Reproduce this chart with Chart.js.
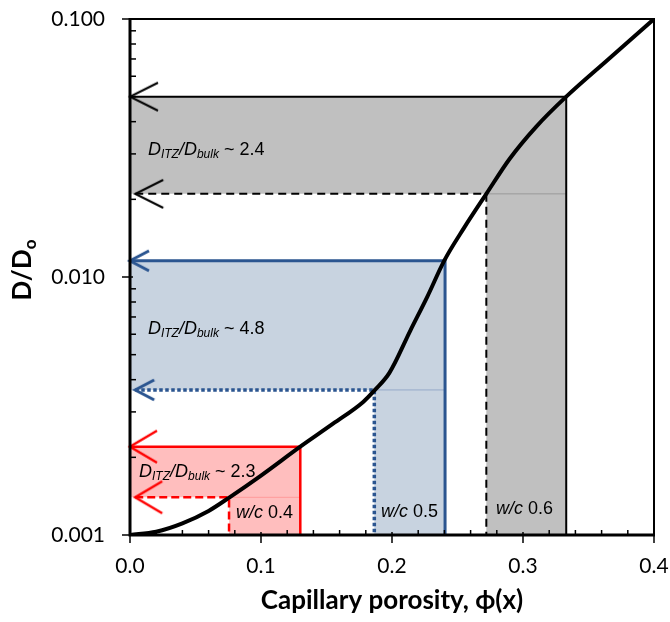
<!DOCTYPE html>
<html>
<head>
<meta charset="utf-8">
<script src="https://cdn.jsdelivr.net/npm/chart.js@4.4.1/dist/chart.umd.min.js"></script>
<style>
  html, body { margin: 0; padding: 0; background: #fff; }
</style>
</head>
<body>
<canvas id="chart" width="670" height="622"></canvas>
<script>
// D/Do against capillary porosity (black curve)
const porosity = [0, 0.02, 0.04, 0.06, 0.076, 0.1, 0.13, 0.155, 0.178, 0.187, 0.198, 0.214, 0.227, 0.24, 0.255, 0.272, 0.29, 0.31, 0.333, 0.365, 0.4];
const diffusivity = [0.001, 0.00103, 0.00111, 0.00124, 0.0014, 0.0017, 0.0022, 0.0027, 0.00328, 0.00365, 0.00425, 0.0062, 0.0084, 0.0116, 0.0155, 0.021, 0.0288, 0.0382, 0.05, 0.0697, 0.1];

// three w/c cases: bulk paste (dashed) and ITZ (solid)
const wcLabels = ['0.4', '0.5', '0.6'];
const ratioLabels = ['2.3', '4.8', '2.4'];
const bulkPorosity = [0.0756, 0.1865, 0.272];
const itzPorosity = [0.13, 0.2405, 0.333];
const bulkD = [0.0014, 0.00365, 0.021];
const itzD = [0.0022, 0.01156, 0.05];
const dashStart = 0.004;

// label anchors (x, y in data units)
const ratioAnchorX = [0.0069, 0.0137, 0.0137];
const ratioAnchorY = [0.00168, 0.00601, 0.0297];
const wcAnchorX = [0.0809, 0.1916, 0.2794];
const wcAnchorY = [0.001164, 0.001175, 0.001205];

// axes
const xMin = 0, xMax = 0.4;
const yMin = 0.001, yMax = 0.1;
const xMajorTicks = [0, 0.1, 0.2, 0.3, 0.4];
const xTickLabels = ['0.0', '0.1', '0.2', '0.3', '0.4'];
const xMinorStep = 0.02;
const yMajorTicks = [0.001, 0.01, 0.1];
const yTickLabels = ['0.001', '0.010', '0.100'];

const caseStyles = [
  { line: '#ff0000', fill: '#ffbebe', edge: '#ff9a9a', lw: 2.5, dlw: 2.5, dash: [8, 4], aw: 27, ah: 16, alw: 2.5 },
  { line: '#2b5590', fill: '#c8d3e0', edge: '#95abc9', lw: 3, dlw: 3.5, dash: [3.5, 2.5], aw: 19, ah: 10, alw: 3 },
  { line: '#000000', fill: '#c0c0c0', edge: '#9a9a9a', lw: 2, dlw: 2, dash: [8, 5], aw: 28, ah: 14, alw: 2 },
];

function makeArrow(color, w, h, lw) {
  const c = document.createElement('canvas');
  const pad = Math.ceil(lw) + 2;
  c.width = 2 * (w + pad);
  c.height = 2 * (h + pad);
  const g = c.getContext('2d');
  const cx = c.width / 2, cy = c.height / 2;
  g.strokeStyle = color;
  g.lineWidth = lw;
  g.beginPath();
  g.moveTo(cx + w, cy - h);
  g.lineTo(cx, cy);
  g.lineTo(cx + w, cy + h);
  g.stroke();
  return c;
}

const datasets = [];

datasets.push({
  data: porosity.map((p, i) => ({ x: p, y: diffusivity[i] })),
  borderColor: '#000',
  borderWidth: 4,
  pointRadius: 0,
  cubicInterpolationMode: 'monotone',
  fill: false,
  order: 1,
});

wcLabels.forEach((wc, i) => {
  const s = caseStyles[i];
  const arrow = makeArrow(s.line, s.aw, s.ah, s.alw);
  // shaded L-shaped band
  datasets.push({
    data: [
      { x: 0, y: itzD[i] }, { x: itzPorosity[i], y: itzD[i] }, { x: itzPorosity[i], y: yMin },
      { x: bulkPorosity[i], y: yMin }, { x: bulkPorosity[i], y: bulkD[i] }, { x: 0, y: bulkD[i] },
    ],
    borderWidth: 0,
    borderColor: 'rgba(0,0,0,0)',
    backgroundColor: s.fill,
    pointRadius: 0,
    fill: 'shape',
    order: 6,
  });
  // thin edge of the band
  datasets.push({
    data: [{ x: bulkPorosity[i], y: bulkD[i] }, { x: itzPorosity[i], y: bulkD[i] }],
    borderColor: s.edge,
    borderWidth: 1,
    pointRadius: 0,
    fill: false,
    order: 5,
  });
  // ITZ line (solid)
  datasets.push({
    data: [{ x: 0, y: itzD[i] }, { x: itzPorosity[i], y: itzD[i] }, { x: itzPorosity[i], y: yMin }],
    borderColor: s.line,
    borderWidth: s.lw,
    borderCapStyle: 'butt',
    pointRadius: c => c.dataIndex === 0 ? 4 : 0,
    pointStyle: c => c.dataIndex === 0 ? arrow : false,
    fill: false,
    clip: false,
    order: 3,
  });
  // bulk line (dashed / dotted)
  datasets.push({
    data: [{ x: dashStart, y: bulkD[i] }, { x: bulkPorosity[i], y: bulkD[i] }, { x: bulkPorosity[i], y: yMin }],
    borderColor: s.line,
    borderWidth: s.dlw,
    borderDash: s.dash,
    borderCapStyle: 'butt',
    pointRadius: c => c.dataIndex === 0 ? 4 : 0,
    pointStyle: c => c.dataIndex === 0 ? arrow : false,
    fill: false,
    clip: false,
    order: 3,
  });
});

function drawRich(ctx, x, y, parts) {
  let cx = x;
  parts.forEach(p => {
    ctx.font = p.font;
    ctx.fillText(p.t, cx, y + (p.dy || 0));
    cx += ctx.measureText(p.t).width;
  });
}

const decor = {
  id: 'decor',
  afterDatasetsDraw(chart) {
    const { ctx, chartArea: a, scales: { x, y } } = chart;
    ctx.save();
    ctx.strokeStyle = '#000';
    ctx.lineWidth = 1.5;
    // y tick marks
    y.ticks.forEach(t => {
      const py = y.getPixelForValue(t.value);
      ctx.beginPath();
      if (t.major) { ctx.moveTo(a.left - 8, py); ctx.lineTo(a.left + 3, py); }
      else { ctx.moveTo(a.left, py); ctx.lineTo(a.left + 6, py); }
      ctx.stroke();
    });
    // x tick marks
    x.ticks.forEach(t => {
      const px = x.getPixelForValue(t.value);
      ctx.beginPath();
      if (t.major) { ctx.moveTo(px, a.bottom - 3); ctx.lineTo(px, a.bottom + 8); }
      else { ctx.moveTo(px, a.bottom - 5); ctx.lineTo(px, a.bottom); }
      ctx.stroke();
    });
    // frame
    ctx.lineWidth = 2;
    ctx.beginPath();
    ctx.moveTo(a.left, a.top); ctx.lineTo(a.right, a.top); ctx.lineTo(a.right, a.bottom);
    ctx.stroke();
    ctx.lineWidth = 3;
    ctx.beginPath();
    ctx.moveTo(a.left, a.top - 1); ctx.lineTo(a.left, a.bottom); ctx.lineTo(a.right + 1, a.bottom);
    ctx.stroke();

    // annotations
    ctx.fillStyle = '#000';
    ctx.textBaseline = 'alphabetic';
    ctx.textAlign = 'left';
    const fam = '"Liberation Sans", Arial, sans-serif';
    wcLabels.forEach((wc, i) => {
      drawRich(ctx, x.getPixelForValue(ratioAnchorX[i]), y.getPixelForValue(ratioAnchorY[i]), [
        { t: 'D', font: 'italic 18px ' + fam },
        { t: 'ITZ', font: 'italic 12px ' + fam, dy: 3 },
        { t: '/D', font: 'italic 18px ' + fam },
        { t: 'bulk', font: 'italic 12px ' + fam, dy: 3 },
        { t: ' ~ ' + ratioLabels[i], font: '18px ' + fam },
      ]);
      drawRich(ctx, x.getPixelForValue(wcAnchorX[i]), y.getPixelForValue(wcAnchorY[i]), [
        { t: 'w/c', font: 'italic 18px ' + fam },
        { t: ' ' + wc, font: '18px ' + fam },
      ]);
    });

    // y axis title D/Do
    ctx.translate(31, 270);
    ctx.rotate(-Math.PI / 2);
    ctx.textAlign = 'left';
    const big = 'bold 26px Lato, sans-serif';
    const small = 'bold 17px Lato, sans-serif';
    ctx.font = big;
    const w1 = ctx.measureText('D/D').width;
    ctx.font = small;
    const w2 = ctx.measureText('o').width;
    drawRich(ctx, -(w1 + w2) / 2, 0, [
      { t: 'D/D', font: big },
      { t: 'o', font: small, dy: 5 },
    ]);
    ctx.restore();
  }
};

new Chart(document.getElementById('chart'), {
  type: 'line',
  data: { datasets },
  options: {
    responsive: false,
    animation: false,
    layout: { padding: { top: 19, right: 16, left: 0, bottom: 0 } },
    plugins: { legend: { display: false }, tooltip: { enabled: false } },
    scales: {
      x: {
        type: 'linear',
        min: xMin,
        max: xMax,
        grid: { display: false, drawTicks: false },
        border: { display: false },
        afterBuildTicks: sc => {
          const ticks = [];
          for (let v = xMin; v <= xMax + 1e-9; v += xMinorStep) {
            const val = Math.round(v * 1000) / 1000;
            ticks.push({ value: val, major: xMajorTicks.includes(val) });
          }
          sc.ticks = ticks;
        },
        ticks: {
          autoSkip: false,
          maxRotation: 0,
          padding: 19,
          color: '#000',
          font: { family: 'Lato', size: 21 },
          callback: v => {
            const k = xMajorTicks.findIndex(m => Math.abs(m - v) < 1e-9);
            return k >= 0 ? xTickLabels[k] : '';
          },
        },
        title: {
          display: true,
          text: 'Capillary porosity, ϕ(x)',
          color: '#000',
          font: { family: 'Lato', size: 26, weight: 'bold' },
          padding: { top: 0, bottom: 6 },
        },
        afterFit: sc => {
          sc.height = 87;
          sc.paddingLeft = 0;
          sc.paddingRight = 0;
        },
      },
      y: {
        type: 'logarithmic',
        min: yMin,
        max: yMax,
        grid: { display: false, drawTicks: false },
        border: { display: false },
        afterBuildTicks: sc => {
          const ticks = [];
          yMajorTicks.forEach((m, k) => {
            ticks.push({ value: m, major: true });
            if (k < yMajorTicks.length - 1) {
              for (let s = 2; s <= 9; s++) ticks.push({ value: m * s, major: false });
            }
          });
          sc.ticks = ticks;
        },
        ticks: {
          autoSkip: false,
          padding: 25,
          color: '#000',
          font: { family: 'Lato', size: 21 },
          callback: v => {
            const k = yMajorTicks.findIndex(m => Math.abs(m - v) / m < 1e-6);
            return k >= 0 ? yTickLabels[k] : '';
          },
        },
        afterFit: sc => {
          sc.width = 130;
          sc.paddingTop = 0;
          sc.paddingBottom = 0;
        },
      },
    },
  },
  plugins: [decor],
});
</script>
</body>
</html>
